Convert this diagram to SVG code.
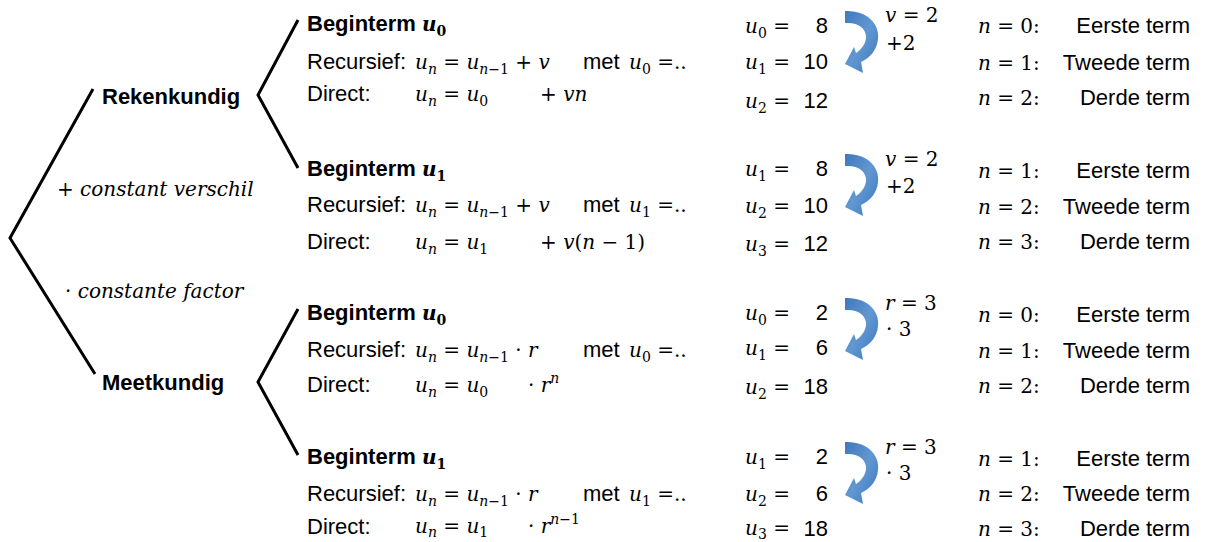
<svg xmlns="http://www.w3.org/2000/svg" width="1206" height="542" viewBox="0 0 1206 542">
<style>
.s{font-family:"Liberation Sans",Arial,sans-serif;font-size:22px;fill:#000}
.b{font-weight:bold}
.m{font-family:"DejaVu Serif","Liberation Serif",serif;font-style:italic;font-size:20px;fill:#000}
.up{font-style:normal}
.sub{font-size:14px}
.ln{fill:none;stroke:#000;stroke-width:3;stroke-linecap:butt;stroke-linejoin:miter}
.arr{fill:url(#bg)}
</style>
<defs>
<linearGradient id="bg" x1="0" y1="0" x2="1" y2="1">
<stop offset="0" stop-color="#3f78bd"/>
<stop offset="0.5" stop-color="#6198d3"/>
<stop offset="1" stop-color="#3c74b8"/>
</linearGradient>
<path id="carrow" d="M0,0 C23,-1 35,14 33,28 C32,39 25,47 16,51 L18,62 L0,53 L9,36 L11,42 C17,38 21,32 21,26 C21,17 13,11 0,12 Z"/>
</defs>
<rect width="1206" height="542" fill="#fff"/>

<g id="connectors">
<polyline class="ln" points="93,89 10,238 95,374"/>
<polyline class="ln" points="298,20 258,95 298,168"/>
<polyline class="ln" points="298,309 258,382 298,455"/>
</g>

<g id="root-labels">
<text class="m" x="57" y="196"><tspan class="up">+</tspan> constant verschil</text>
<text class="m" x="65" y="298"><tspan class="up">·</tspan> constante factor</text>
</g>

<g id="rekenkundig"><text class="s b" x="102" y="104">Rekenkundig</text></g>
<g id="meetkundig"><text class="s b" x="102" y="390">Meetkundig</text></g>

<!-- Block 1 -->
<g id="rek-u0">
<text class="s b" x="307" y="31">Beginterm <tspan class="m b">u</tspan><tspan class="m b up sub" dy="5">0</tspan></text>
<text class="s" x="307" y="69">Recursief:</text>
<text class="m" x="415" y="69">u<tspan class="sub" dy="5">n</tspan><tspan class="up" dy="-5"> = </tspan>u<tspan class="sub" dy="5">n<tspan class="up">−1</tspan></tspan><tspan class="up" dy="-5"> + </tspan>v</text>
<text class="s" x="583" y="69">met</text>
<text class="m" x="629" y="69">u<tspan class="sub up" dy="5">0</tspan><tspan class="up" dy="-5"> =..</tspan></text>
<text class="s" x="307" y="101">Direct:</text>
<text class="m" x="415" y="101">u<tspan class="sub" dy="5">n</tspan><tspan class="up" dy="-5"> = </tspan>u<tspan class="sub up" dy="5">0</tspan></text>
<text class="m" x="540" y="101"><tspan class="up">+ </tspan>vn</text>

<text class="m" x="745" y="33">u<tspan class="sub up" dy="5">0</tspan><tspan class="up" dy="-5"> =</tspan></text>
<text class="s" x="828" y="33" text-anchor="end">8</text>
<text class="m" x="745" y="69">u<tspan class="sub up" dy="5">1</tspan><tspan class="up" dy="-5"> =</tspan></text>
<text class="s" x="828" y="69" text-anchor="end">10</text>
<text class="m" x="745" y="108">u<tspan class="sub up" dy="5">2</tspan><tspan class="up" dy="-5"> =</tspan></text>
<text class="s" x="828" y="108" text-anchor="end">12</text>
<use href="#carrow" class="arr" x="845" y="11"/>
<text class="m" x="885" y="22">v<tspan class="up"> = 2</tspan></text>
<text class="m up" x="886" y="50">+2</text>

<text class="m" x="978" y="33">n<tspan class="up"> = 0:</tspan></text>
<text class="s" x="1190" y="33" text-anchor="end">Eerste term</text>
<text class="m" x="978" y="70">n<tspan class="up"> = 1:</tspan></text>
<text class="s" x="1190" y="70" text-anchor="end">Tweede term</text>
<text class="m" x="978" y="105">n<tspan class="up"> = 2:</tspan></text>
<text class="s" x="1190" y="105" text-anchor="end">Derde term</text>
</g>

<!-- Block 2 -->
<g id="rek-u1">
<text class="s b" x="307" y="176">Beginterm <tspan class="m b">u</tspan><tspan class="m b up sub" dy="5">1</tspan></text>
<text class="s" x="307" y="212">Recursief:</text>
<text class="m" x="415" y="212">u<tspan class="sub" dy="5">n</tspan><tspan class="up" dy="-5"> = </tspan>u<tspan class="sub" dy="5">n<tspan class="up">−1</tspan></tspan><tspan class="up" dy="-5"> + </tspan>v</text>
<text class="s" x="583" y="212">met</text>
<text class="m" x="629" y="212">u<tspan class="sub up" dy="5">1</tspan><tspan class="up" dy="-5"> =..</tspan></text>
<text class="s" x="307" y="249">Direct:</text>
<text class="m" x="415" y="249">u<tspan class="sub" dy="5">n</tspan><tspan class="up" dy="-5"> = </tspan>u<tspan class="sub up" dy="5">1</tspan></text>
<text class="m" x="540" y="249"><tspan class="up">+ </tspan>v<tspan class="up">(</tspan>n<tspan class="up"> − 1)</tspan></text>

<text class="m" x="745" y="176">u<tspan class="sub up" dy="5">1</tspan><tspan class="up" dy="-5"> =</tspan></text>
<text class="s" x="828" y="176" text-anchor="end">8</text>
<text class="m" x="745" y="213">u<tspan class="sub up" dy="5">2</tspan><tspan class="up" dy="-5"> =</tspan></text>
<text class="s" x="828" y="213" text-anchor="end">10</text>
<text class="m" x="745" y="251">u<tspan class="sub up" dy="5">3</tspan><tspan class="up" dy="-5"> =</tspan></text>
<text class="s" x="828" y="251" text-anchor="end">12</text>
<use href="#carrow" class="arr" x="845" y="154"/>
<text class="m" x="885" y="166">v<tspan class="up"> = 2</tspan></text>
<text class="m up" x="886" y="193">+2</text>

<text class="m" x="978" y="178">n<tspan class="up"> = 1:</tspan></text>
<text class="s" x="1190" y="178" text-anchor="end">Eerste term</text>
<text class="m" x="978" y="214">n<tspan class="up"> = 2:</tspan></text>
<text class="s" x="1190" y="214" text-anchor="end">Tweede term</text>
<text class="m" x="978" y="249">n<tspan class="up"> = 3:</tspan></text>
<text class="s" x="1190" y="249" text-anchor="end">Derde term</text>
</g>

<!-- Block 3 -->
<g id="meet-u0">
<text class="s b" x="307" y="320">Beginterm <tspan class="m b">u</tspan><tspan class="m b up sub" dy="5">0</tspan></text>
<text class="s" x="307" y="357">Recursief:</text>
<text class="m" x="415" y="357">u<tspan class="sub" dy="5">n</tspan><tspan class="up" dy="-5"> = </tspan>u<tspan class="sub" dy="5">n<tspan class="up">−1</tspan></tspan><tspan class="up" dy="-5"> · </tspan>r</text>
<text class="s" x="583" y="357">met</text>
<text class="m" x="629" y="357">u<tspan class="sub up" dy="5">0</tspan><tspan class="up" dy="-5"> =..</tspan></text>
<text class="s" x="307" y="392">Direct:</text>
<text class="m" x="415" y="392">u<tspan class="sub" dy="5">n</tspan><tspan class="up" dy="-5"> = </tspan>u<tspan class="sub up" dy="5">0</tspan></text>
<text class="m" x="528" y="392"><tspan class="up">· </tspan>r<tspan class="sub" dy="-9">n</tspan></text>

<text class="m" x="745" y="320">u<tspan class="sub up" dy="5">0</tspan><tspan class="up" dy="-5"> =</tspan></text>
<text class="s" x="828" y="320" text-anchor="end">2</text>
<text class="m" x="745" y="355">u<tspan class="sub up" dy="5">1</tspan><tspan class="up" dy="-5"> =</tspan></text>
<text class="s" x="828" y="355" text-anchor="end">6</text>
<text class="m" x="745" y="394">u<tspan class="sub up" dy="5">2</tspan><tspan class="up" dy="-5"> =</tspan></text>
<text class="s" x="828" y="394" text-anchor="end">18</text>
<use href="#carrow" class="arr" x="845" y="298"/>
<text class="m" x="885" y="310">r<tspan class="up"> = 3</tspan></text>
<text class="m up" x="886" y="336">· 3</text>

<text class="m" x="978" y="322">n<tspan class="up"> = 0:</tspan></text>
<text class="s" x="1190" y="322" text-anchor="end">Eerste term</text>
<text class="m" x="978" y="358">n<tspan class="up"> = 1:</tspan></text>
<text class="s" x="1190" y="358" text-anchor="end">Tweede term</text>
<text class="m" x="978" y="393">n<tspan class="up"> = 2:</tspan></text>
<text class="s" x="1190" y="393" text-anchor="end">Derde term</text>
</g>

<!-- Block 4 -->
<g id="meet-u1">
<text class="s b" x="307" y="464">Beginterm <tspan class="m b">u</tspan><tspan class="m b up sub" dy="5">1</tspan></text>
<text class="s" x="307" y="501">Recursief:</text>
<text class="m" x="415" y="501">u<tspan class="sub" dy="5">n</tspan><tspan class="up" dy="-5"> = </tspan>u<tspan class="sub" dy="5">n<tspan class="up">−1</tspan></tspan><tspan class="up" dy="-5"> · </tspan>r</text>
<text class="s" x="583" y="501">met</text>
<text class="m" x="629" y="501">u<tspan class="sub up" dy="5">1</tspan><tspan class="up" dy="-5"> =..</tspan></text>
<text class="s" x="307" y="534">Direct:</text>
<text class="m" x="415" y="533">u<tspan class="sub" dy="4">n</tspan><tspan class="up" dy="-4"> = </tspan>u<tspan class="sub up" dy="4">1</tspan></text>
<text class="m" x="528" y="533"><tspan class="up">· </tspan>r<tspan class="sub" dy="-9">n<tspan class="up">−1</tspan></tspan></text>

<text class="m" x="745" y="464">u<tspan class="sub up" dy="5">1</tspan><tspan class="up" dy="-5"> =</tspan></text>
<text class="s" x="828" y="464" text-anchor="end">2</text>
<text class="m" x="745" y="501">u<tspan class="sub up" dy="5">2</tspan><tspan class="up" dy="-5"> =</tspan></text>
<text class="s" x="828" y="501" text-anchor="end">6</text>
<text class="m" x="745" y="535">u<tspan class="sub up" dy="4">3</tspan><tspan class="up" dy="-4"> =</tspan></text>
<text class="s" x="828" y="536" text-anchor="end">18</text>
<use href="#carrow" class="arr" x="845" y="442"/>
<text class="m" x="885" y="454">r<tspan class="up"> = 3</tspan></text>
<text class="m up" x="886" y="480">· 3</text>

<text class="m" x="978" y="466">n<tspan class="up"> = 1:</tspan></text>
<text class="s" x="1190" y="466" text-anchor="end">Eerste term</text>
<text class="m" x="978" y="501">n<tspan class="up"> = 2:</tspan></text>
<text class="s" x="1190" y="501" text-anchor="end">Tweede term</text>
<text class="m" x="978" y="536">n<tspan class="up"> = 3:</tspan></text>
<text class="s" x="1190" y="536" text-anchor="end">Derde term</text>
</g>
</svg>
